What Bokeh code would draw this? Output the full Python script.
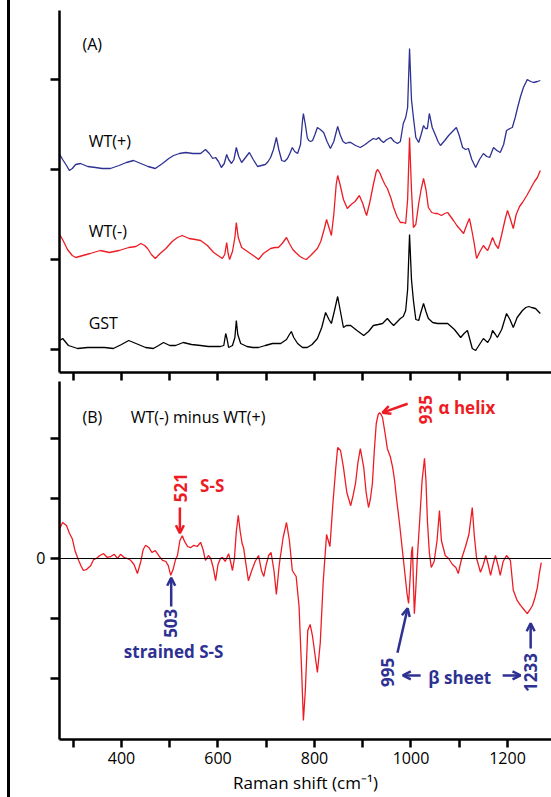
import math
from bokeh.plotting import figure
from bokeh.models import (Range1d, FixedTicker, Span, Arrow, OpenHead, Label, Column)
from bokeh.embed import file_html
from bokeh.resources import INLINE

BLUE = "#2e3192"
RED = "#ed1c24"
FONT = "Open Sans"

# ---------------- (A) Raman spectra (wavenumber, intensity in arbitrary units) ----------------
gst_w = [272, 278, 290, 309, 330, 346, 365, 383, 400, 415, 430, 450, 466, 477, 487, 500, 512, 528,
         545, 564, 580, 595, 605, 612, 616, 619, 622, 630, 635, 638, 641, 647, 660, 672, 684, 698,
         713, 730, 742, 748, 752, 757, 765, 775, 785, 795, 806, 815, 823, 830, 835, 841, 848, 853,
         860, 866, 875, 888, 902, 912, 922, 932, 941, 951, 958, 964, 972, 978, 984, 989, 993, 997,
         1001, 1005, 1010, 1016, 1021, 1026, 1031, 1036, 1045, 1055, 1065, 1076, 1090, 1103, 1110,
         1117, 1122, 1127, 1134, 1142, 1150, 1159, 1165, 1169, 1175, 1179, 1188, 1198, 1205, 1212,
         1220, 1231, 1238, 1244, 1250, 1258, 1268]
gst_i = [9, 11, 4, 1, 2, 2, 2, 1, 5, 9, 6, 2, 1, 4, 7, 4, 4, 7,
         5, 4, 3, 3, 3, 4, 16, 10, 2, 4, 12, 29, 15, 6, 3, 2, 2, 4,
         6, 6, 10, 15, 18, 12, 6, 2, 2, 5, 11, 22, 37, 30, 26, 38, 53, 40,
         22, 24, 24, 19, 14, 18, 24, 25, 26, 31, 27, 24, 28, 31, 33, 39, 60, 115,
         70, 49, 30, 29, 38, 46, 38, 31, 27, 26, 26, 26, 20, 12, 16,
         19, 10, 1, -1, 5, 11, 7, 12, 19, 15, 12, 20, 36, 30, 22,
         32, 39, 42, 43, 42, 41, 36]

wtm_w = [272, 280, 288, 298, 305, 320, 335, 356, 375, 395, 415, 430, 440, 448, 454, 462, 470, 480,
         492, 505, 516, 526, 540, 553, 564, 578, 591, 600, 609, 614, 618, 621, 624, 630, 635, 638,
         642, 649, 658, 667, 676, 684, 694, 709, 718, 725, 733, 742, 748, 755, 761, 770, 777, 783,
         792, 800, 806, 813, 820, 825, 830, 835, 840, 845, 848, 853, 860, 868, 876, 884, 893, 900,
         905, 908, 915, 922, 928, 931, 936, 941, 946, 951, 958, 964, 971, 978, 984, 989, 993, 997,
         1001, 1005, 1010, 1016, 1021, 1026, 1031, 1036, 1043, 1050, 1055, 1063, 1070, 1076, 1082,
         1088, 1095, 1102, 1109, 1115, 1121, 1125, 1130, 1136, 1143, 1150, 1155, 1159, 1164, 1169,
         1175, 1181, 1188, 1195, 1200, 1205, 1212, 1218, 1225, 1231, 1240, 1248, 1256, 1262, 1268]
wtm_i = [115, 108, 100, 94, 92, 94, 96, 99, 97, 99, 102, 103, 106, 104, 101, 95, 91, 96,
         101, 108, 112, 114, 111, 110, 109, 104, 97, 94, 91, 95, 107, 96, 90, 98, 112, 127,
         112, 102, 99, 96, 93, 90, 96, 101, 102, 102, 106, 112, 106, 100, 97, 93, 91, 90,
         94, 98, 101, 108, 120, 130, 122, 114, 135, 165, 174, 165, 150, 141, 145, 148, 154, 146,
         138, 134, 148, 165, 178, 180, 176, 170, 165, 161, 152, 142, 133, 127, 127, 126, 150, 212,
         160, 122, 125, 146, 160, 171, 160, 142, 137, 136, 136, 134, 136, 137, 133,
         129, 124, 120, 116, 124, 131, 122, 109, 91, 98, 104, 101, 99, 105, 112,
         105, 101, 115, 130, 139, 132, 121, 135, 143, 147, 154, 161, 168, 172, 179]

wtp_w = [272, 278, 286, 292, 298, 305, 315, 330, 346, 360, 377, 395, 410, 425, 440, 455, 470, 485,
         498, 508, 520, 533, 548, 564, 574, 582, 589, 595, 601, 607, 613, 618, 622, 628, 633, 638,
         643, 649, 657, 665, 673, 682, 690, 698, 704, 709, 715, 721, 726, 732, 738, 744, 749, 754,
         759, 765, 771, 775, 777, 781, 785, 788, 792, 796, 801, 806, 812, 819, 826, 833, 840, 848,
         853, 859, 865, 870, 875, 885, 895, 905, 913, 922, 928, 933, 938, 943, 950, 958, 965, 972,
         978, 984, 989, 993, 997, 1001, 1005, 1010, 1016, 1021, 1026, 1030, 1034, 1038, 1044, 1051,
         1056, 1061, 1070, 1078, 1086, 1094, 1100, 1107, 1113, 1119, 1126, 1134, 1142, 1150, 1157,
         1163, 1171, 1178, 1185, 1192, 1198, 1205, 1210, 1216, 1221, 1227, 1233, 1241, 1248, 1254,
         1262, 1268]
wtp_i = [195, 190, 184, 179, 181, 185, 186, 183, 182, 181, 181, 184, 187, 189, 186, 183, 181, 186,
         191, 194, 196, 197, 196, 196, 200, 196, 191, 192, 188, 182, 186, 195, 190, 186, 190, 202,
         193, 187, 192, 197, 190, 183, 184, 185, 188, 192, 200, 212, 200, 189, 188, 191, 196, 202,
         198, 196, 205, 228, 236, 225, 212, 209, 208, 209, 215, 222, 220, 217, 208, 201, 208, 223,
         215, 208, 206, 207, 207, 204, 202, 205, 208, 211, 210, 212, 209, 207, 210, 212, 208, 206,
         208, 226, 232, 242, 301, 250, 232, 212, 207, 215, 224, 221, 221, 236, 222, 214,
         208, 204, 209, 214, 218, 222, 214, 202, 200, 201, 190, 182, 190, 196, 193,
         192, 202, 199, 197, 205, 219, 221, 222, 232, 242, 253, 262, 270, 268, 267,
         268, 269]

# ---------------- (B) difference spectrum WT(-) minus WT(+) ----------------
diff_w = [272, 278, 286, 292, 298, 304, 311, 316, 321, 328, 336, 342, 348, 355, 363, 370, 377, 385,
          392, 398, 405, 412, 419, 426, 433, 440, 445, 450, 457, 463, 470, 477, 485, 492, 497, 502,
          507, 512, 516, 521, 526, 531, 537, 543, 550, 557, 564, 569, 574, 580, 585, 590, 595, 600,
          605, 609, 615, 622, 626, 630, 634, 638, 642, 646, 650, 653, 658, 663, 670, 677, 684, 690,
          695, 700, 705, 710, 716, 721, 727, 735, 742, 748, 754, 762, 768, 773, 777, 781, 786, 791,
          796, 801, 806, 812, 818, 825, 832, 838, 844, 848, 854, 860, 867, 875, 880, 885, 890, 895,
          902, 907, 912, 916, 920, 924, 928, 932, 935, 938, 941, 946, 951, 957, 962, 966, 970, 976,
          980, 984, 988, 992, 995, 998, 1001, 1003, 1005, 1007, 1010, 1013, 1018, 1023, 1028, 1031,
          1034, 1038, 1042, 1048, 1054, 1059, 1063, 1071, 1078, 1086, 1093, 1098, 1105, 1113, 1120,
          1127, 1131, 1136, 1144, 1150, 1155, 1160, 1165, 1170, 1175, 1180, 1185, 1191, 1198, 1206,
          1212, 1220, 1227, 1234, 1241, 1247, 1252, 1257, 1262, 1266, 1270]
diff_i = [0.50, 0.60, 0.55, 0.42, 0.33, 0.12, -0.03, -0.12, -0.20, -0.18, -0.12, -0.02, 0.0, 0.05,
          0.08, 0.02, 0.03, 0.07, 0.0, 0.07, 0.02, 0.0, -0.03, -0.10, -0.25, -0.05, 0.15, 0.22, 0.18,
          0.10, 0.13, 0.05, -0.03, -0.05, -0.12, -0.28, -0.18, -0.02, 0.05, 0.30, 0.38, 0.28, 0.20,
          0.18, 0.22, 0.20, 0.27, 0.15, -0.03, 0.05, 0.0, -0.15, -0.37, -0.10, 0.0, 0.02, -0.05, 0.08,
          -0.05, -0.20, 0.0, 0.45, 0.72, 0.45, 0.25, 0.18, -0.10, -0.37, -0.20, -0.05, 0.05, -0.20,
          -0.30, -0.10, 0.05, 0.10, -0.20, -0.60, -0.10, 0.35, 0.60, 0.30, -0.20, -0.30, -0.80, -1.80,
          -2.70, -2.20, -1.20, -1.10, -1.30, -1.60, -1.90, -1.40, -0.40, 0.40, 0.20, 0.90, 1.50, 1.85,
          1.80, 1.52, 1.10, 0.88, 1.05, 1.25, 1.60, 1.83, 1.52, 1.10, 0.85, 1.00, 1.25, 1.80, 2.25,
          2.40, 2.43, 2.40, 2.35, 2.10, 1.83, 1.70, 1.52, 1.30, 1.00, 0.60, 0.30, 0.0, -0.30, -0.60,
          -0.75, -0.35, 0.10, 0.20, -0.40, -0.92, -0.50, 0.0, 0.63, 1.30, 1.67, 1.30, 0.63, 0.10,
          -0.15, -0.05, 0.30, 0.80, 0.30, 0.05, 0.0, -0.10, -0.15, -0.25, 0.0, 0.20, 0.40, 0.85, 0.40,
          0.0, -0.23, -0.10, 0.05, -0.10, -0.28, -0.10, 0.05, -0.10, -0.28, -0.05, 0.05, -0.03,
          -0.53, -0.70, -0.78, -0.85, -0.92, -0.85, -0.78, -0.65, -0.48, -0.25, -0.07]

# labelled and unlabelled tick positions
x_major = [400, 600, 800, 1000, 1200]
x_minor = [300, 500, 700, 900, 1100]
a_ticks = [0, 90, 180, 270]
b_major = [0]
b_minor = [-2, -1, 1, 2]

X_MIN, X_MAX = 271.5, 1291.2
TITLE_X = 194  # wavenumber just left of the tick labels, where the y titles sit


def style_axes(p):
    p.grid.visible = False
    p.outline_line_color = None
    p.background_fill_color = None
    p.border_fill_color = None
    for ax in (p.xaxis[0], p.yaxis[0]):
        ax.axis_line_width = 2.5
        ax.axis_line_color = "black"
        ax.major_tick_line_width = 2.5
        ax.major_tick_line_color = "black"
        ax.minor_tick_line_width = 2.5
        ax.minor_tick_line_color = "black"
        ax.major_tick_in = 0
        ax.minor_tick_in = 0
        ax.major_label_text_font = FONT
        ax.major_label_text_font_size = "16px"
        ax.major_label_text_color = "black"
        ax.axis_label_text_font = FONT
        ax.axis_label_text_font_size = "17px"
        ax.axis_label_text_font_style = "normal"
        ax.axis_label_text_color = "black"


# ---------------- panel (A) ----------------
pA = figure(width=541, height=381, x_range=Range1d(X_MIN, X_MAX), y_range=Range1d(-23, 339),
            min_border_left=49, min_border_right=0, min_border_top=10, min_border_bottom=9,
            output_backend="svg", toolbar_location=None)
style_axes(pA)
# unlabelled ticks only
pA.xaxis.ticker = FixedTicker(ticks=[], minor_ticks=x_major + x_minor)
pA.xaxis.minor_tick_out = 8
pA.xaxis.major_label_standoff = 0
pA.yaxis.ticker = FixedTicker(ticks=[], minor_ticks=a_ticks)
pA.yaxis.minor_tick_out = 9
pA.yaxis.major_label_standoff = 0

pA.add_layout(Label(x=TITLE_X, y=162, text="Relative intensity", angle=math.pi / 2,
                    text_font=FONT, text_font_size="17px", text_color="black",
                    text_align="center", text_baseline="middle"))

pA.line(wtp_w, wtp_i, line_color=BLUE, line_width=1.3)
pA.line(wtm_w, wtm_i, line_color=RED, line_width=1.3)
pA.line(gst_w, gst_i, line_color="black", line_width=1.3)

for txt, xx, yy in [("(A)", 319, 306), ("WT(+)", 332, 209), ("WT(-)", 332, 119), ("GST", 332, 27)]:
    pA.add_layout(Label(x=xx, y=yy, text=txt, text_font=FONT, text_font_size="16px",
                        text_color="black", text_baseline="middle", text_align="left"))

# ---------------- panel (B) ----------------
pB = figure(width=541, height=416, x_range=pA.x_range, y_range=Range1d(-3.017, 2.95),
            min_border_left=49, min_border_right=0, min_border_top=0, min_border_bottom=58,
            output_backend="svg", toolbar_location=None)
style_axes(pB)
pB.xaxis.ticker = FixedTicker(ticks=x_major, minor_ticks=x_minor)
pB.xaxis.major_tick_out = 8
pB.xaxis.minor_tick_out = 8
pB.xaxis.major_label_standoff = 4
pB.xaxis.axis_label = "Raman shift (cm\u207b\u00b9)"
pB.xaxis.axis_label_standoff = 4
pB.yaxis.ticker = FixedTicker(ticks=b_major, minor_ticks=b_minor)
pB.yaxis.major_tick_out = 9
pB.yaxis.minor_tick_out = 9
pB.yaxis.major_label_standoff = 5

pB.add_layout(Span(location=0, dimension="width", line_color="black", line_width=1))
pB.line(diff_w, diff_i, line_color=RED, line_width=1.3)

# y-axis title, placed a little above the frame centre
pB.add_layout(Label(x=TITLE_X, y=0.47, text="Relative intensity", angle=math.pi / 2,
                    text_font=FONT, text_font_size="17px", text_color="black",
                    text_align="center", text_baseline="middle"))

for txt, xx, yy in [("(B)", 319, 2.35), ("WT(-) minus WT(+)", 419, 2.35)]:
    pB.add_layout(Label(x=xx, y=yy, text=txt, text_font=FONT, text_font_size="16px",
                        text_color="black", text_baseline="middle", text_align="left"))

# band assignments
peak_labels = [
    # text, colour, label x, label y
    ("521", RED, 522, 1.18),
    ("503", BLUE, 502, -1.08),
    ("935", RED, 1030, 2.48),
    ("995", BLUE, 951, -1.90),
    ("1233", BLUE, 1248, -1.90),
]
for txt, col, xx, yy in peak_labels:
    pB.add_layout(Label(x=xx, y=yy, text=txt, angle=math.pi / 2, text_font=FONT,
                        text_font_size="17px", text_font_style="bold", text_color=col,
                        text_align="center", text_baseline="middle"))

band_names = [
    ("S-S", RED, 588, 1.22, "center"),
    ("strained S-S", BLUE, 508, -1.55, "center"),
    ("\u03b1 helix", RED, 1057, 2.52, "left"),
    ("\u03b2 sheet", BLUE, 1036, -1.98, "left"),
]
for txt, col, xx, yy, al in band_names:
    pB.add_layout(Label(x=xx, y=yy, text=txt, text_font=FONT, text_font_size="17px",
                        text_font_style="bold", text_color=col, text_align=al,
                        text_baseline="middle"))

arrows = [
    # x_start, y_start, x_end, y_end, colour
    (521, 0.85, 521, 0.42, RED),
    (503, -0.80, 503, -0.32, BLUE),
    (993, 2.58, 941, 2.43, RED),
    (972, -1.57, 993, -0.83, BLUE),
    (1020, -1.95, 983, -1.95, BLUE),
    (1190, -1.95, 1227, -1.95, BLUE),
    (1248, -1.50, 1248, -1.08, BLUE),
]
for xs, ys, xe, ye, col in arrows:
    pB.add_layout(Arrow(x_start=xs, y_start=ys, x_end=xe, y_end=ye, line_color=col,
                        line_width=2.5,
                        end=OpenHead(size=8, line_color=col, line_width=2.5)))

layout = Column(children=[pA, pB],
                styles={"border-left": "3px solid black", "margin-left": "7px"})

open("out.html", "w").write(file_html(layout, INLINE))
